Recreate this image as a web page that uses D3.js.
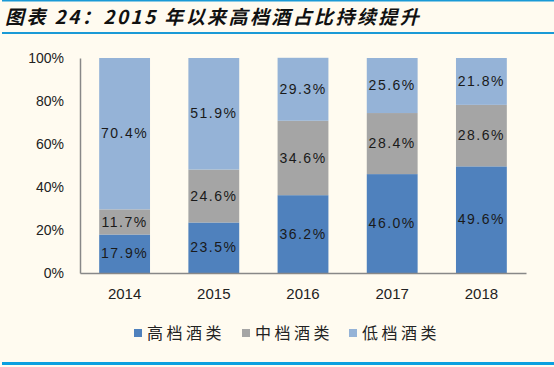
<!DOCTYPE html>
<html>
<head>
<meta charset="utf-8">
<script src="https://cdn.jsdelivr.net/npm/d3@7"></script>
<style>
  body { margin: 0; background: #fffbf0; }
  svg { display: block; }
</style>
</head>
<body>
<div id="chart"></div>
<script>
const years = ["2014", "2015", "2016", "2017", "2018"];
const seriesNames = ["高档酒类", "中档酒类", "低档酒类"];
const high = [17.9, 23.5, 36.2, 46.0, 49.6];
const mid = [11.7, 24.6, 34.6, 28.4, 28.6];
const low = [70.4, 51.9, 29.3, 25.6, 21.8];
const yTicks = [0, 20, 40, 60, 80, 100];
const colors = ["#4f81bd", "#a5a5a5", "#95b3d7"];

const W = 554, H = 367;
const margin = { top: 58, right: 28, bottom: 94, left: 80 };

const svg = d3.select("#chart").append("svg")
    .attr("width", W)
    .attr("height", H);

svg.append("rect").attr("width", W).attr("height", H).attr("fill", "#fffbf0");

// frame lines
svg.append("rect").attr("x", 2).attr("y", 0).attr("width", W - 2).attr("height", 1.5).attr("fill", "#1a9ad6");
svg.append("rect").attr("x", 2).attr("y", 32).attr("width", W - 2).attr("height", 2).attr("fill", "#1a9ad6");
svg.append("rect").attr("x", 2).attr("y", 362).attr("width", W - 2).attr("height", 3).attr("fill", "#0aa0e0");

svg.append("text")
    .attr("x", 5)
    .attr("y", 24)
    .attr("font-family", "Noto Sans CJK SC")
    .attr("font-size", 19)
    .attr("font-weight", "bold")
    .attr("font-style", "italic")
    .attr("letter-spacing", 2.4)
    .attr("fill", "#111")
    .text("图表 24：2015 年以来高档酒占比持续提升");

const x = d3.scaleBand()
    .domain(years)
    .range([margin.left, W - margin.right])
    .paddingInner(0.43)
    .paddingOuter(0.215);

const y = d3.scaleLinear()
    .domain([0, 100])
    .range([H - margin.bottom, margin.top]);

const rows = years.map((yr, i) => ({ year: yr, high: high[i], mid: mid[i], low: low[i] }));
const stack = d3.stack().keys(["high", "mid", "low"])(rows);

const g = svg.append("g");
stack.forEach((layer, k) => {
    g.selectAll(".bar" + k)
        .data(layer)
        .enter().append("rect")
        .attr("x", d => x(d.data.year))
        .attr("y", d => y(d[1]))
        .attr("width", x.bandwidth())
        .attr("height", d => y(d[0]) - y(d[1]))
        .attr("fill", colors[k]);

    g.selectAll(".lab" + k)
        .data(layer)
        .enter().append("text")
        .attr("x", d => x(d.data.year) + x.bandwidth() / 2)
        .attr("y", d => y((d[0] + d[1]) / 2))
        .attr("dy", "0.33em")
        .attr("text-anchor", "middle")
        .attr("font-family", "Liberation Sans, Arial, sans-serif")
        .attr("font-size", 14)
        .attr("letter-spacing", 1.5)
        .attr("fill", "#1a1a1a")
        .text(d => d3.format(".1f")(d[1] - d[0]) + "%");
});

// y axis
const yAxis = svg.append("g")
    .attr("transform", `translate(${margin.left},0)`)
    .call(d3.axisLeft(y).tickValues(yTicks).tickSize(0).tickPadding(16).tickFormat(d => d + "%"));
yAxis.select(".domain").attr("stroke", "#888").attr("stroke-width", 1.5);
yAxis.selectAll("text")
    .attr("font-family", "Liberation Sans, Arial, sans-serif")
    .attr("font-size", 14)
    .attr("fill", "#222");

// x axis
const xAxis = svg.append("g")
    .attr("transform", `translate(0,${H - margin.bottom})`)
    .call(d3.axisBottom(x).tickSize(0).tickPadding(15));
xAxis.select(".domain").attr("stroke", "#888").attr("stroke-width", 1.5);
xAxis.selectAll("text")
    .attr("font-family", "Liberation Sans, Arial, sans-serif")
    .attr("font-size", 15)
    .attr("fill", "#222");

// legend
const legendX = [134, 242, 349];
const legend = svg.append("g");
seriesNames.forEach((name, i) => {
    legend.append("rect")
        .attr("x", legendX[i])
        .attr("y", 329)
        .attr("width", 8)
        .attr("height", 8)
        .attr("fill", colors[i]);
    legend.append("text")
        .attr("x", legendX[i] + 13)
        .attr("y", 333)
        .attr("dy", "0.36em")
        .attr("font-family", "Noto Sans CJK SC")
        .attr("font-size", 16)
        .attr("letter-spacing", 3.5)
        .attr("fill", "#222")
        .text(name);
});
</script>
</body>
</html>
